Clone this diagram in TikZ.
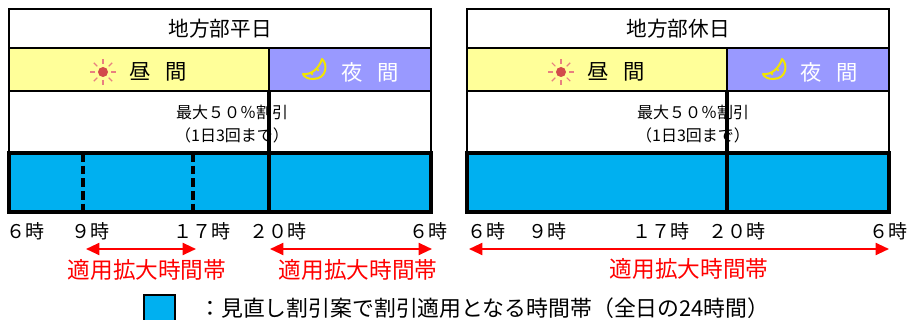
\documentclass[tikz,border=0pt]{standalone}
\usepackage{fontspec}
\setmainfont{Noto Sans CJK JP}
\usetikzlibrary{arrows.meta,positioning}
\definecolor{dayyellow}{HTML}{FFFF99}
\definecolor{nightblue}{HTML}{9999FF}
\definecolor{barblue}{HTML}{00B0F0}
\definecolor{sunred}{HTML}{D24B4B}
\definecolor{rayred}{HTML}{E88080}
\definecolor{moonyellow}{HTML}{F2E600}

\begin{document}
\begin{tikzpicture}[x=0.75pt,y=-0.75pt,
	panelline/.style={draw=black,line width=2.2pt},
	barbox/.style={draw=black,line width=3pt,fill=barblue},
	split/.style={black,line width=2.6pt},
	hourcut/.style={black,line width=2.6pt,dash pattern=on 6.5pt off 3pt},
	spanarrow/.style={red,line width=1.5pt,{Triangle[length=10pt,width=9pt]}-{Triangle[length=10pt,width=9pt]}},
	paneltitle/.style={font=\fontsize{15.5}{17}\selectfont,inner sep=0pt},
	daytext/.style={font=\fontsize{16}{18}\selectfont,inner sep=0pt},
	nighttext/.style={font=\fontsize{16}{18}\selectfont,text=white,inner sep=0pt},
	ratetext/.style={font=\fontsize{12}{17}\selectfont,align=center,inner sep=0pt},
	hour/.style={font=\fontsize{14.25}{16}\selectfont,inner sep=0pt},
	spantext/.style={font=\fontsize{17}{19}\selectfont,text=red,inner sep=0pt},
	keybox/.style={draw=black,line width=1.5pt,fill=barblue},
	keytext/.style={font=\fontsize{16.4}{18}\selectfont,inner sep=0pt},
	sunray/.style={rayred,line width=0.8pt},
	moon/.style={moonyellow,line width=1.5pt,line join=round}]
	\useasboundingbox (0,0) rectangle (908,320);
	\fill[white] (0,0) rectangle (908,320);

	% weekday panel
	\filldraw[panelline,fill=white] (9,9) rectangle (431,48);
	\filldraw[panelline,fill=dayyellow] (9,48) rectangle (269,91);
	\filldraw[panelline,fill=nightblue] (269,48) rectangle (431,91);
	\filldraw[panelline,fill=white] (9,91) rectangle (431,153);
	\filldraw[barbox] (9,153) rectangle (431,212);
	\draw[split] (269,91) -- (269,212);
	\draw[hourcut] (83,153) -- (83,212);
	\draw[hourcut] (193,153) -- (193,212);
	\node[paneltitle] (titleL) at (220,29) {地方部平日};
	\node[daytext] (dayL) at (158.5,72) {昼\hspace{11pt}間};
	\node[nighttext] (nightL) at (370,72) {夜\hspace{11pt}間};
	\node[ratetext] (rateL) at (232,124) {最大５０％割引\\（1日3回まで）};

	% holiday panel
	\filldraw[panelline,fill=white] (467,9) rectangle (889,48);
	\filldraw[panelline,fill=dayyellow] (467,48) rectangle (727,91);
	\filldraw[panelline,fill=nightblue] (727,48) rectangle (889,91);
	\filldraw[panelline,fill=white] (467,91) rectangle (889,153);
	\filldraw[barbox] (467,153) rectangle (889,212);
	\draw[split] (727,91) -- (727,212);
	\node[paneltitle] (titleR) at (678,29) {地方部休日};
	\node[daytext] (dayR) at (616.5,72) {昼\hspace{11pt}間};
	\node[nighttext] (nightR) at (829.5,72) {夜\hspace{11pt}間};
	\node[ratetext] (rateR) at (693,124) {最大５０％割引\\（1日3回まで）};

	% sun and moon
	\foreach \dx in {0,458}{
		\begin{scope}[shift={(\dx,0)}]
			\fill[sunred] (103,72) circle (5);
			\foreach \a in {0,45,...,315}
				\draw[sunray] (103,72) ++(\a:8) -- ++(\a:5);
		\end{scope}
	}
	\foreach \dx in {0,460}{
		\begin{scope}[shift={(\dx,0)}]
			\draw[moon] (322,59) .. controls (328,64) and (327,79) .. (313,79)
				.. controls (308,79) and (304,77) .. (303,74)
				.. controls (312,75) and (319,68) .. cycle;
			\fill[moonyellow] (312,74) circle (1.3);
			\fill[moonyellow] (318,70) circle (1.3);
		\end{scope}
	}

	% hours
	\node[hour] (h6L) at (26,231) {６時};
	\node[hour] (h9L) at (90,231) {９時};
	\node[hour] (h17L) at (240,231) {１７時　２０時};
	\node[hour] (h6Le) at (428,231) {６時};
	\node[hour] (h6R) at (486,231) {６時};
	\node[hour] (h9R) at (547,231) {９時};
	\node[hour] (h17R) at (699,231) {１７時　２０時};
	\node[hour] (h6Re) at (888,231) {６時};

	% extended spans
	\coordinate (spanLa) at (86,249);
	\coordinate (spanLb) at (196,249);
	\coordinate (spanMa) at (270,249);
	\coordinate (spanMb) at (432,249);
	\coordinate (spanRa) at (469,249);
	\coordinate (spanRb) at (889,249);
	\draw[spanarrow] (spanLa) -- (spanLb);
	\draw[spanarrow] (spanMa) -- (spanMb);
	\draw[spanarrow] (spanRa) -- (spanRb);
	\node[spantext] (spanLtext) at (147,270) {適用拡大時間帯};
	\node[spantext] (spanMtext) at (358,270) {適用拡大時間帯};
	\node[spantext] (spanRtext) at (689,269) {適用拡大時間帯};

	% legend
	\draw[keybox] (144,295) rectangle (175,330);
	\node[keytext,anchor=west] (legend) at (199,308) {：見直し割引案で割引適用となる時間帯（全日の24時間）};
\end{tikzpicture}
\end{document}
